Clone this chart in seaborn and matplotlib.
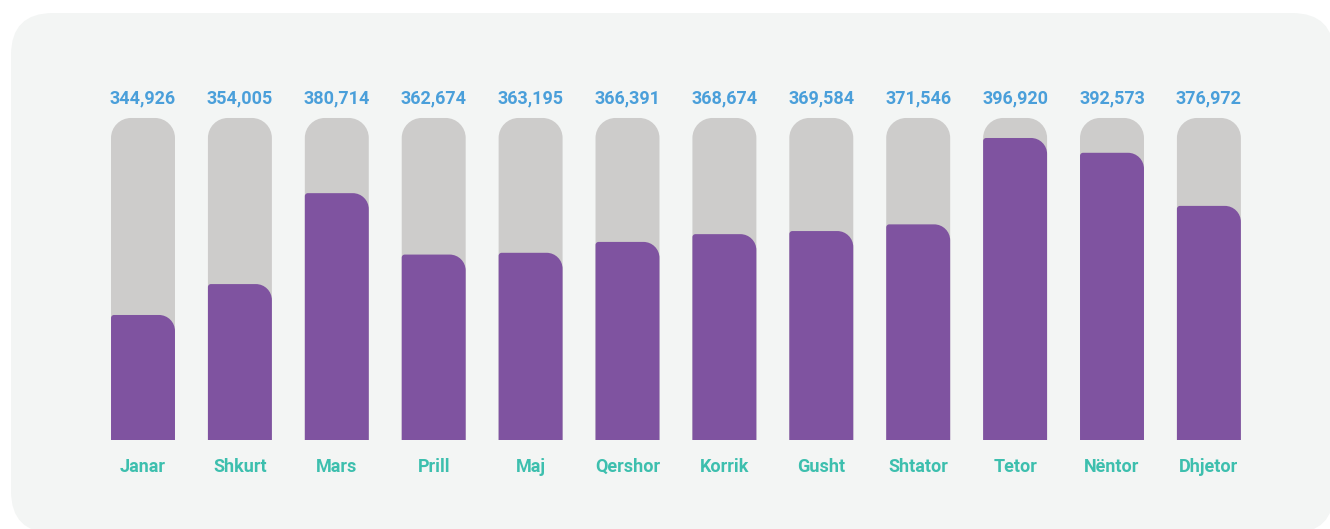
import numpy as np
import pandas as pd
import matplotlib
matplotlib.use("Agg")
import matplotlib.pyplot as plt
import seaborn as sns
from matplotlib.path import Path
from matplotlib.patches import PathPatch, FancyBboxPatch

months = ["Janar", "Shkurt", "Mars", "Prill", "Maj", "Qershor", "Korrik",
          "Gusht", "Shtator", "Tetor", "Nëntor", "Dhjetor"]
values = [344926, 354005, 380714, 362674, 363195, 366391, 368674,
          369584, 371546, 396920, 392573, 376972]

BASE = 308200      # value at the bar baseline
TRACK = 402800     # value reached by the grey background track

PURPLE = "#7f53a0"
GREY = "#cdcccb"
BLUE = "#4a9fda"
TEAL = "#3dbfae"
CARD = "#f3f5f4"

W, H = 1330, 529
sns.set_theme(style="white")
plt.rcParams["font.family"] = ["Roboto", "DejaVu Sans"]

fig = plt.figure(figsize=(W / 100, H / 100), dpi=100)
fig.patch.set_facecolor("white")

# background card (in inches: pixels / 100)
card = FancyBboxPatch((11 / 100, (H - 533) / 100), (1334 - 11) / 100, (533 - 13) / 100,
                      boxstyle="round,pad=0,rounding_size=0.42",
                      transform=fig.dpi_scale_trans, facecolor=CARD, edgecolor="none",
                      zorder=-5)
fig.patches.append(card)

ax = fig.add_axes([0, 0, 1, 1])
ax.set_facecolor("none")
ax.set_zorder(1)

df = pd.DataFrame({"month": months, "value": values,
                   "track": [TRACK] * len(months)})

sns.barplot(data=df, x="month", y="track", color=GREY, width=0.66,
            saturation=1, ax=ax, zorder=1)
n_track = len(ax.patches)
sns.barplot(data=df, x="month", y="value", color=PURPLE, width=0.66,
            saturation=1, ax=ax, zorder=2)

# axis geometry: centres at px 143 + 96.9*i, baseline px 440
step = 96.9
x0px = 143
ax.set_xlim(-x0px / step, (W - x0px) / step)
ppu = 0.003404  # pixels per value unit
ax.set_ylim(BASE - (H - 440) / ppu, BASE + 440 / ppu)
ax.axis("off")

dxp = 1 / step
dyp = 1 / ppu
K = 0.5523


def rounded_top(x0, x1, y0, y1, rl, rr):
    rxl, ryl = rl * dxp, rl * dyp
    rxr, ryr = rr * dxp, rr * dyp
    verts = [(x0, y0), (x0, y1 - ryl),
             (x0, y1 - ryl + K * ryl), (x0 + rxl - K * rxl, y1), (x0 + rxl, y1),
             (x1 - rxr, y1),
             (x1 - rxr + K * rxr, y1), (x1, y1 - ryr + K * ryr), (x1, y1 - ryr),
             (x1, y0), (x0, y0)]
    codes = [Path.MOVETO, Path.LINETO,
             Path.CURVE4, Path.CURVE4, Path.CURVE4,
             Path.LINETO,
             Path.CURVE4, Path.CURVE4, Path.CURVE4,
             Path.LINETO, Path.CLOSEPOLY]
    return Path(verts, codes)


rects = list(ax.patches)
for i, r in enumerate(rects):
    x = r.get_x()
    w = r.get_width()
    top = r.get_height()
    is_track = i < n_track
    color = GREY if is_track else PURPLE
    path = rounded_top(x, x + w, BASE, top, 20 if is_track else 3,
                       20 if is_track else 16)
    r.remove()
    ax.add_patch(PathPatch(path, facecolor=color, edgecolor="none",
                           zorder=1 if is_track else 2))

# labels
for i, (m, v) in enumerate(zip(months, values)):
    ax.text(i, BASE + (440 - 98) / ppu, f"{v:,}", ha="center", va="center",
            fontsize=13, fontweight="bold", color=BLUE)
    ax.text(i, BASE - (467 - 440) / ppu, m, ha="center", va="center",
            fontsize=13, fontweight="bold", color=TEAL)

fig.savefig("out.png", dpi=100, facecolor="white")
